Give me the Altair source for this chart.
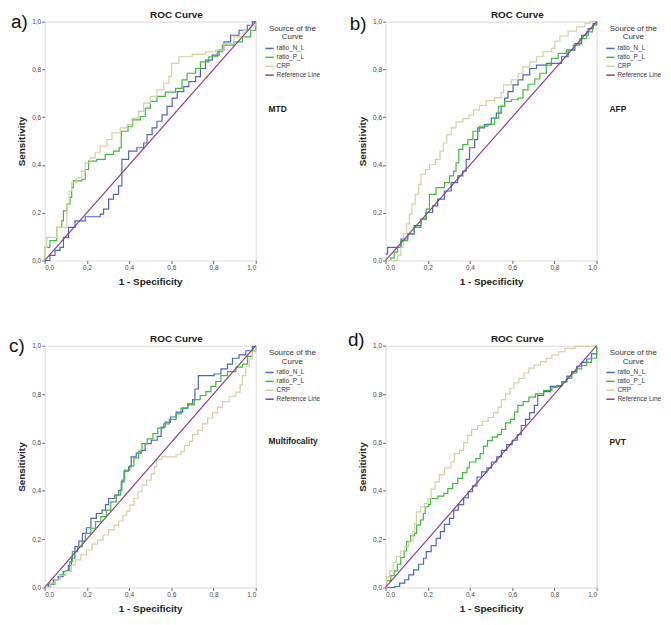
import altair as alt
import pandas as pd

FONT = "Lato"
SERIES = ["ratio_N_L", "ratio_P_L", "CRP", "Reference Line"]
COLORS = ["#4f63c6", "#3dbb3d", "#d8cfa3", "#8c3f8c"]
PANEL_LABELS = ["a)", "b)", "c)", "d)"]
PANEL_NOTES = ["MTD", "AFP", "Multifocality", "PVT"]
TICKS = [0.0, 0.2, 0.4, 0.6, 0.8, 1.0]
REF_X = [0.0, 1.0]
REF_Y = [0.0, 1.0]

# ---- panel a (MTD) ----
A_NL_X = [0, 0.025, 0.049, 0.073, 0.089, 0.113, 0.144, 0.192, 0.223, 0.263, 0.279, 0.303, 0.326, 0.350, 0.366, 0.366, 0.398, 0.437, 0.469, 0.485, 0.509, 0.532, 0.556, 0.580, 0.604, 0.628, 0.659, 0.683, 0.715, 0.738, 0.762, 0.794, 0.826, 0.849, 0.881, 0.921, 0.960, 0.984, 1.0]
A_NL_Y = [0, 0.021, 0.042, 0.055, 0.097, 0.139, 0.166, 0.183, 0.183, 0.194, 0.215, 0.257, 0.277, 0.312, 0.361, 0.423, 0.458, 0.472, 0.492, 0.527, 0.555, 0.583, 0.610, 0.645, 0.680, 0.707, 0.728, 0.749, 0.770, 0.804, 0.839, 0.860, 0.881, 0.915, 0.943, 0.964, 0.985, 0.999, 1.0]
A_PL_X = [0, 0, 0.025, 0.025, 0.052, 0.057, 0.081, 0.089, 0.105, 0.120, 0.128, 0.136, 0.176, 0.192, 0.208, 0.247, 0.287, 0.326, 0.353, 0.363, 0.395, 0.417, 0.453, 0.477, 0.501, 0.532, 0.572, 0.620, 0.651, 0.675, 0.715, 0.738, 0.778, 0.818, 0.842, 0.897, 0.937, 0.976, 1.0, 1.0]
A_PL_Y = [0, 0.055, 0.055, 0.083, 0.083, 0.139, 0.166, 0.208, 0.236, 0.264, 0.305, 0.333, 0.340, 0.381, 0.416, 0.423, 0.444, 0.458, 0.472, 0.541, 0.562, 0.589, 0.603, 0.638, 0.666, 0.687, 0.705, 0.721, 0.756, 0.784, 0.804, 0.832, 0.853, 0.874, 0.902, 0.915, 0.936, 0.964, 0.985, 1.0]
A_CRP_X = [0, 0, 0.010, 0.049, 0.057, 0.097, 0.105, 0.116, 0.128, 0.152, 0.176, 0.192, 0.216, 0.239, 0.263, 0.295, 0.319, 0.358, 0.390, 0.414, 0.445, 0.469, 0.501, 0.532, 0.564, 0.588, 0.601, 0.636, 0.699, 0.762, 0.810, 0.849, 0.897, 0.944, 0.976, 1.0]
A_CRP_Y = [0, 0.055, 0.097, 0.097, 0.139, 0.139, 0.236, 0.291, 0.326, 0.347, 0.374, 0.409, 0.430, 0.451, 0.479, 0.506, 0.534, 0.555, 0.569, 0.596, 0.624, 0.659, 0.687, 0.714, 0.742, 0.770, 0.825, 0.853, 0.863, 0.874, 0.881, 0.908, 0.936, 0.964, 0.985, 1.0]

# ---- panel b (AFP) ----
B_NL_X = [0, 0.010, 0.049, 0.073, 0.105, 0.136, 0.168, 0.192, 0.223, 0.247, 0.279, 0.311, 0.342, 0.366, 0.382, 0.398, 0.422, 0.437, 0.469, 0.501, 0.525, 0.548, 0.564, 0.580, 0.604, 0.628, 0.651, 0.683, 0.715, 0.762, 0.810, 0.834, 0.865, 0.897, 0.929, 0.960, 0.984, 1.0]
B_NL_Y = [0.028, 0.055, 0.055, 0.090, 0.111, 0.146, 0.173, 0.201, 0.229, 0.257, 0.291, 0.326, 0.354, 0.374, 0.423, 0.472, 0.506, 0.555, 0.569, 0.596, 0.617, 0.645, 0.680, 0.707, 0.735, 0.756, 0.777, 0.804, 0.818, 0.825, 0.825, 0.853, 0.881, 0.908, 0.943, 0.971, 0.992, 1.0]
B_PL_X = [0, 0.025, 0.041, 0.057, 0.073, 0.105, 0.136, 0.168, 0.192, 0.208, 0.239, 0.279, 0.303, 0.322, 0.334, 0.347, 0.366, 0.390, 0.414, 0.445, 0.485, 0.517, 0.536, 0.564, 0.596, 0.628, 0.651, 0.675, 0.707, 0.731, 0.762, 0.786, 0.818, 0.857, 0.889, 0.921, 0.952, 0.981, 1.0]
B_PL_Y = [0, 0.011, 0.035, 0.055, 0.083, 0.111, 0.139, 0.173, 0.215, 0.277, 0.305, 0.326, 0.354, 0.374, 0.409, 0.465, 0.485, 0.506, 0.541, 0.562, 0.571, 0.596, 0.645, 0.666, 0.673, 0.680, 0.714, 0.738, 0.760, 0.784, 0.818, 0.846, 0.867, 0.881, 0.902, 0.929, 0.957, 0.985, 1.0]
B_CRP_X = [0, 0.033, 0.057, 0.073, 0.084, 0.100, 0.113, 0.125, 0.141, 0.157, 0.168, 0.189, 0.208, 0.236, 0.258, 0.274, 0.290, 0.311, 0.334, 0.366, 0.395, 0.417, 0.445, 0.477, 0.517, 0.548, 0.559, 0.596, 0.628, 0.651, 0.683, 0.715, 0.746, 0.786, 0.802, 0.826, 0.865, 0.905, 0.945, 0.968, 1.0]
B_CRP_Y = [0, 0, 0.021, 0.055, 0.111, 0.153, 0.194, 0.236, 0.277, 0.319, 0.361, 0.381, 0.402, 0.423, 0.458, 0.492, 0.527, 0.555, 0.580, 0.594, 0.610, 0.631, 0.649, 0.669, 0.682, 0.704, 0.735, 0.756, 0.784, 0.811, 0.832, 0.853, 0.874, 0.888, 0.918, 0.940, 0.960, 0.978, 0.993, 1.0, 1.0]

# ---- panel c (Multifocality) ----
C_NL_X = [0, 0.017, 0.041, 0.064, 0.088, 0.112, 0.127, 0.143, 0.162, 0.179, 0.198, 0.219, 0.245, 0.272, 0.288, 0.303, 0.332, 0.351, 0.363, 0.376, 0.398, 0.410, 0.434, 0.458, 0.476, 0.505, 0.533, 0.552, 0.571, 0.596, 0.623, 0.654, 0.678, 0.701, 0.712, 0.728, 0.764, 0.803, 0.835, 0.866, 0.890, 0.921, 0.953, 0.984, 1.0]
C_NL_Y = [0, 0.014, 0.032, 0.045, 0.066, 0.091, 0.121, 0.169, 0.192, 0.224, 0.247, 0.286, 0.306, 0.320, 0.343, 0.368, 0.382, 0.402, 0.437, 0.481, 0.499, 0.540, 0.556, 0.567, 0.595, 0.609, 0.625, 0.663, 0.684, 0.705, 0.725, 0.742, 0.760, 0.777, 0.821, 0.876, 0.876, 0.883, 0.904, 0.924, 0.948, 0.962, 0.979, 0.997, 1.0]
C_PL_X = [0, 0.025, 0.049, 0.072, 0.099, 0.119, 0.131, 0.156, 0.178, 0.193, 0.219, 0.241, 0.266, 0.292, 0.313, 0.340, 0.360, 0.366, 0.379, 0.403, 0.423, 0.445, 0.461, 0.486, 0.513, 0.536, 0.564, 0.591, 0.623, 0.646, 0.678, 0.709, 0.737, 0.764, 0.788, 0.811, 0.835, 0.866, 0.906, 0.937, 0.961, 0.984, 1.0]
C_PL_Y = [0, 0.014, 0.032, 0.052, 0.069, 0.107, 0.148, 0.169, 0.192, 0.224, 0.245, 0.272, 0.293, 0.320, 0.354, 0.382, 0.402, 0.444, 0.485, 0.503, 0.536, 0.563, 0.595, 0.615, 0.636, 0.659, 0.677, 0.695, 0.718, 0.742, 0.755, 0.777, 0.794, 0.810, 0.832, 0.852, 0.876, 0.893, 0.911, 0.924, 0.956, 0.979, 1.0]
C_CRP_X = [0, 0.025, 0.049, 0.072, 0.099, 0.127, 0.146, 0.171, 0.198, 0.225, 0.250, 0.277, 0.303, 0.329, 0.351, 0.371, 0.388, 0.404, 0.423, 0.442, 0.461, 0.483, 0.505, 0.520, 0.530, 0.555, 0.591, 0.623, 0.646, 0.662, 0.686, 0.701, 0.725, 0.748, 0.772, 0.796, 0.819, 0.843, 0.874, 0.906, 0.926, 0.937, 0.953, 0.969, 0.984, 1.0]
C_CRP_Y = [0, 0.018, 0.032, 0.049, 0.066, 0.093, 0.114, 0.135, 0.155, 0.179, 0.196, 0.217, 0.238, 0.258, 0.275, 0.297, 0.316, 0.341, 0.368, 0.396, 0.423, 0.444, 0.471, 0.499, 0.530, 0.540, 0.540, 0.549, 0.563, 0.588, 0.604, 0.632, 0.650, 0.677, 0.701, 0.723, 0.746, 0.769, 0.791, 0.808, 0.838, 0.876, 0.915, 0.945, 0.975, 1.0]

# ---- panel d (PVT) ----
D_NL_X = [0, 0.044, 0.067, 0.091, 0.110, 0.133, 0.157, 0.180, 0.193, 0.216, 0.240, 0.260, 0.279, 0.303, 0.323, 0.345, 0.370, 0.392, 0.412, 0.433, 0.455, 0.480, 0.502, 0.527, 0.549, 0.574, 0.600, 0.624, 0.643, 0.663, 0.683, 0.705, 0.721, 0.749, 0.781, 0.812, 0.835, 0.859, 0.882, 0.906, 0.929, 0.953, 0.976, 1.0]
D_NL_Y = [0, 0.004, 0.018, 0.032, 0.052, 0.073, 0.096, 0.121, 0.148, 0.173, 0.203, 0.231, 0.261, 0.286, 0.320, 0.343, 0.371, 0.396, 0.420, 0.457, 0.478, 0.495, 0.519, 0.540, 0.567, 0.591, 0.609, 0.632, 0.670, 0.695, 0.723, 0.753, 0.794, 0.810, 0.832, 0.835, 0.852, 0.874, 0.893, 0.915, 0.931, 0.945, 0.966, 1.0]
D_PL_X = [0, 0.005, 0.025, 0.041, 0.056, 0.072, 0.088, 0.100, 0.119, 0.138, 0.147, 0.166, 0.179, 0.188, 0.204, 0.213, 0.248, 0.276, 0.295, 0.318, 0.342, 0.365, 0.386, 0.397, 0.428, 0.448, 0.464, 0.483, 0.506, 0.530, 0.549, 0.569, 0.592, 0.611, 0.627, 0.652, 0.679, 0.710, 0.749, 0.788, 0.812, 0.835, 0.859, 0.882, 0.906, 0.929, 0.953, 0.976, 1.0, 1.0]
D_PL_Y = [0, 0.027, 0.049, 0.069, 0.096, 0.124, 0.151, 0.190, 0.214, 0.224, 0.258, 0.279, 0.306, 0.334, 0.343, 0.368, 0.378, 0.389, 0.409, 0.430, 0.451, 0.475, 0.495, 0.519, 0.533, 0.554, 0.585, 0.607, 0.622, 0.632, 0.654, 0.681, 0.695, 0.725, 0.753, 0.769, 0.787, 0.801, 0.815, 0.828, 0.832, 0.849, 0.865, 0.887, 0.904, 0.918, 0.931, 0.948, 0.966, 1.0]
D_CRP_X = [0, 0.005, 0.020, 0.036, 0.052, 0.072, 0.091, 0.110, 0.130, 0.138, 0.146, 0.166, 0.185, 0.201, 0.216, 0.235, 0.255, 0.279, 0.310, 0.326, 0.350, 0.370, 0.389, 0.408, 0.436, 0.459, 0.486, 0.511, 0.533, 0.549, 0.569, 0.589, 0.608, 0.632, 0.655, 0.679, 0.705, 0.734, 0.762, 0.788, 0.820, 0.851, 0.898, 0.969, 1.0]
D_CRP_Y = [0, 0.045, 0.069, 0.104, 0.128, 0.151, 0.169, 0.192, 0.231, 0.265, 0.313, 0.334, 0.348, 0.368, 0.407, 0.437, 0.467, 0.495, 0.519, 0.554, 0.567, 0.599, 0.629, 0.654, 0.670, 0.687, 0.703, 0.723, 0.746, 0.777, 0.801, 0.824, 0.846, 0.865, 0.887, 0.907, 0.920, 0.934, 0.948, 0.962, 0.975, 0.989, 0.997, 0.997, 1.0]

PANELS = [
    [("ratio_N_L", A_NL_X, A_NL_Y), ("ratio_P_L", A_PL_X, A_PL_Y), ("CRP", A_CRP_X, A_CRP_Y)],
    [("ratio_N_L", B_NL_X, B_NL_Y), ("ratio_P_L", B_PL_X, B_PL_Y), ("CRP", B_CRP_X, B_CRP_Y)],
    [("ratio_N_L", C_NL_X, C_NL_Y), ("ratio_P_L", C_PL_X, C_PL_Y), ("CRP", C_CRP_X, C_CRP_Y)],
    [("ratio_N_L", D_NL_X, D_NL_Y), ("ratio_P_L", D_PL_X, D_PL_Y), ("CRP", D_CRP_X, D_CRP_Y)],
]

W = 213
HEIGHTS = [241, 241, 244, 244]
LABEL_POS = [(-34, 0), (-36, 2), (-36, 0), (-38, -6)]
NOTE_Y = [88, 88, 96, 97]

LABEL_EXPR = "replace(format(datum.value, '.1f'), '.', ',')"


def panel(k):
    rows = []
    for name, xs, ys in PANELS[k]:
        for i, (xv, yv) in enumerate(zip(xs, ys)):
            rows.append({"fpr": xv, "tpr": yv, "series": name, "i": i})
    df = pd.DataFrame(rows)
    ref = pd.DataFrame({"fpr": REF_X, "tpr": REF_Y, "series": ["Reference Line"] * 2, "i": [0, 1]})

    x = alt.X("fpr:Q", scale=alt.Scale(domain=[0, 1], nice=False),
              axis=alt.Axis(values=TICKS, title="1 - Specificity", labelExpr=LABEL_EXPR,
                            grid=False, domain=False, tickSize=3, tickColor="#666",
                            labelFontSize=6.5, labelColor="#444", labelPadding=1,
                            titleFontSize=10, titleFontWeight="bold", titleColor="#222",
                            titlePadding=6))
    y = alt.Y("tpr:Q", scale=alt.Scale(domain=[0, 1], nice=False),
              axis=alt.Axis(values=TICKS, title="Sensitivity", labelExpr=LABEL_EXPR,
                            grid=False, domain=False, tickSize=3, tickColor="#666",
                            labelFontSize=6.5, labelColor="#444", labelPadding=1,
                            titleFontSize=10, titleFontWeight="bold", titleColor="#222",
                            titlePadding=5))
    color = alt.Color("series:N", sort=SERIES,
                      scale=alt.Scale(domain=SERIES, range=COLORS),
                      legend=alt.Legend(title=["Source of the", "Curve"], orient="none",
                                        legendX=W + 9, legendY=3,
                                        titleFontSize=8, titleFontWeight="normal",
                                        titleColor="#333", titleAnchor="middle",
                                        titleLineHeight=9, titlePadding=2,
                                        labelFontSize=6.5, labelColor="#333",
                                        labelOffset=2, symbolType="stroke",
                                        symbolSize=70, symbolStrokeWidth=1.5,
                                        rowPadding=0))
    curves = alt.Chart(df).mark_line(interpolate="step-after", strokeWidth=1.2).encode(
        x=x, y=y, color=color, order="i:Q")
    refl = alt.Chart(ref).mark_line(strokeWidth=1.2).encode(x=x, y=y, color=color, order="i:Q")

    title = alt.Chart(pd.DataFrame({"t": ["ROC Curve"]})).mark_text(
        fontSize=10, fontWeight="bold", color="#222", baseline="middle").encode(
        text="t:N", x=alt.value(133), y=alt.value(-7))
    lx, ly = LABEL_POS[k]
    lab = alt.Chart(pd.DataFrame({"t": [PANEL_LABELS[k]]})).mark_text(
        fontSize=19, color="#111", align="left", baseline="middle").encode(
        text="t:N", x=alt.value(lx), y=alt.value(ly))
    note = alt.Chart(pd.DataFrame({"t": [PANEL_NOTES[k]]})).mark_text(
        fontSize=8.5, fontWeight="bold", color="#222", align="left", baseline="middle").encode(
        text="t:N", x=alt.value(W + 13), y=alt.value(NOTE_Y[k]))
    return alt.layer(curves, refl, title, lab, note).properties(width=W, height=HEIGHTS[k])


top = alt.hconcat(panel(0), panel(1), spacing=131, bounds="flush").resolve_scale(
    color="independent").resolve_legend(color="independent")
bottom = alt.hconcat(panel(2), panel(3), spacing=131, bounds="flush").resolve_scale(
    color="independent").resolve_legend(color="independent")
chart = alt.vconcat(top, bottom, spacing=43).resolve_scale(
    color="independent").resolve_legend(color="independent").properties(
    padding={"left": 0, "top": -2, "right": 0, "bottom": 0}
).configure_view(
    fill="#ebebeb", stroke="#8c8c8c", strokeWidth=1.5
).configure_axis(labelFont=FONT, titleFont=FONT).configure_legend(
    labelFont=FONT, titleFont=FONT).configure_text(font=FONT).configure(background="white")

chart.save("out.html", embed_options={"renderer": "svg", "actions": False})
